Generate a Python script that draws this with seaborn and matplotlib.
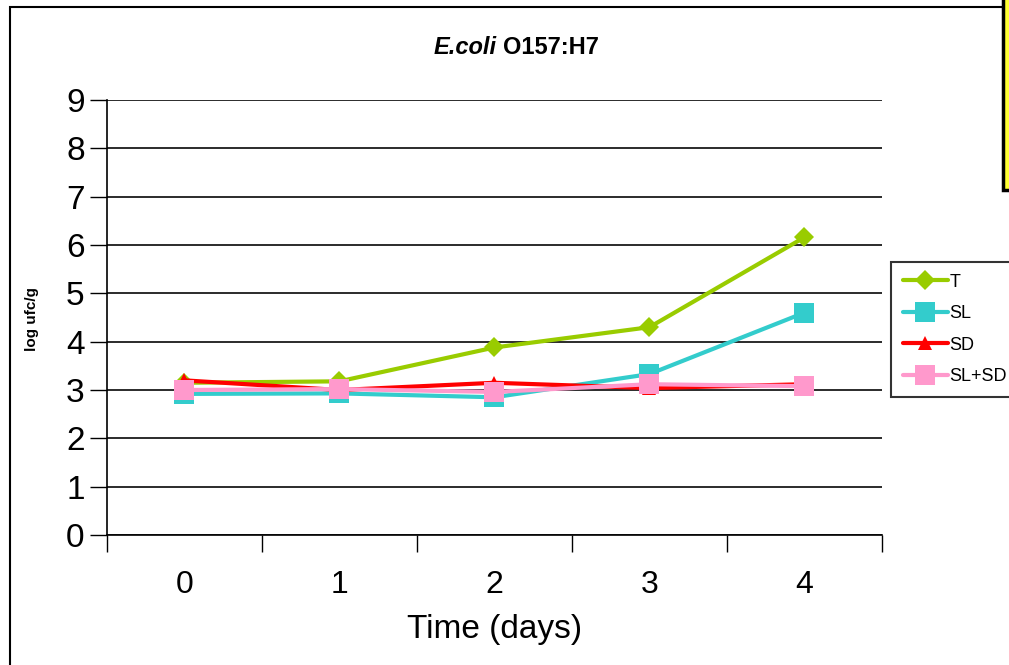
import numpy as np
import pandas as pd
import matplotlib
matplotlib.use("Agg")
import matplotlib.pyplot as plt
from matplotlib.patches import Rectangle
from matplotlib.ticker import FixedLocator, NullFormatter
import seaborn as sns

# datos
dias = [0, 1, 2, 3, 4]
serie_T = [3.15, 3.18, 3.88, 4.30, 6.16]
serie_SL = [2.92, 2.93, 2.85, 3.33, 4.60]
serie_SD = [3.20, 3.00, 3.15, 3.04, 3.12]
serie_SLSD = [3.00, 3.02, 2.96, 3.12, 3.08]
tratamientos = ["T", "SL", "SD", "SL+SD"]

df = pd.DataFrame({
    "dia": dias * 4,
    "log": serie_T + serie_SL + serie_SD + serie_SLSD,
    "trat": np.repeat(tratamientos, len(dias)),
})

sns.set_theme(style="white")
plt.rcParams["font.family"] = ["Liberation Sans", "DejaVu Sans"]
plt.rcParams["text.color"] = "black"
plt.rcParams["axes.labelcolor"] = "black"
plt.rcParams["xtick.color"] = "black"
plt.rcParams["ytick.color"] = "black"

colores = {"T": "#99CC00", "SL": "#33CCCC", "SD": "#FF0000", "SL+SD": "#FF99CC"}
marcadores = {"T": "D", "SL": "s", "SD": "^", "SL+SD": "s"}
tamanos = {"T": 10, "SL": 15, "SD": 10, "SL+SD": 14}

fig = plt.figure(figsize=(10.09, 6.65), dpi=100)
ax = fig.add_axes([0.106, 0.1955, 0.768, 0.654])

for t in tratamientos:
    sns.lineplot(data=df[df["trat"] == t], x="dia", y="log", ax=ax,
                 color=colores[t], marker=marcadores[t], markersize=tamanos[t],
                 markeredgewidth=0, linewidth=3, label=t, legend=False)

ax.set_xlim(-0.5, 4.5)
ax.set_ylim(0, 9)
ax.set_yticks(range(10))
ax.tick_params(axis="y", labelsize=24, length=12, width=1, direction="out", left=True, pad=4)
ax.xaxis.set_major_locator(FixedLocator(np.arange(-0.5, 4.6, 1)))
ax.xaxis.set_major_formatter(NullFormatter())
ax.xaxis.set_minor_locator(FixedLocator(dias))
ax.set_xticklabels([str(d) for d in dias], minor=True)
ax.tick_params(axis="x", which="major", length=12, width=1, direction="out", bottom=True)
ax.tick_params(axis="x", which="minor", length=0, labelsize=23, pad=25)
ax.grid(axis="y", color="#1a1a1a", linewidth=1.3)
ax.set_axisbelow(True)
for s in ["top", "right"]:
    ax.spines[s].set_visible(False)
for s in ["left", "bottom"]:
    ax.spines[s].set_color("black")
    ax.spines[s].set_linewidth(1.2)
ax.set_xlabel("Time (days)", fontsize=24, labelpad=10)
ax.set_ylabel("")

fig.text(0.032, 0.52, "log ufc/g", rotation=90, fontsize=11, fontweight="bold", ha="center", va="center")
fig.text(497 / 1009, 0.929, "E.coli", fontsize=17, fontweight="bold", style="italic", ha="right", va="center")
fig.text(503 / 1009, 0.929, "O157:H7", fontsize=17, fontweight="bold", ha="left", va="center")

handles, labels = ax.get_legend_handles_labels()
leg = fig.legend(handles, labels, loc="upper left", bbox_to_anchor=(891 / 1009, 1 - 262 / 665),
                 fontsize=13, frameon=True, fancybox=False, handlelength=2.5, handletextpad=0.1,
                 labelspacing=0.8, borderpad=0.65, borderaxespad=0, markerscale=1.0)
leg.get_frame().set_edgecolor("black")
leg.get_frame().set_linewidth(1.5)

# marco exterior y recuadro amarillo
fig.patches.append(Rectangle((10 / 1009, -0.05), 1.2, 1.05 - 7 / 665, transform=fig.transFigure,
                             fill=False, edgecolor="black", linewidth=1.5, zorder=0))
fig.patches.append(Rectangle((1003 / 1009, 1 - 190 / 665), 0.1, 0.35, transform=fig.transFigure,
                             facecolor="#FFFF33", edgecolor="black", linewidth=2.5, zorder=1))

fig.savefig("out.png", dpi=100)
